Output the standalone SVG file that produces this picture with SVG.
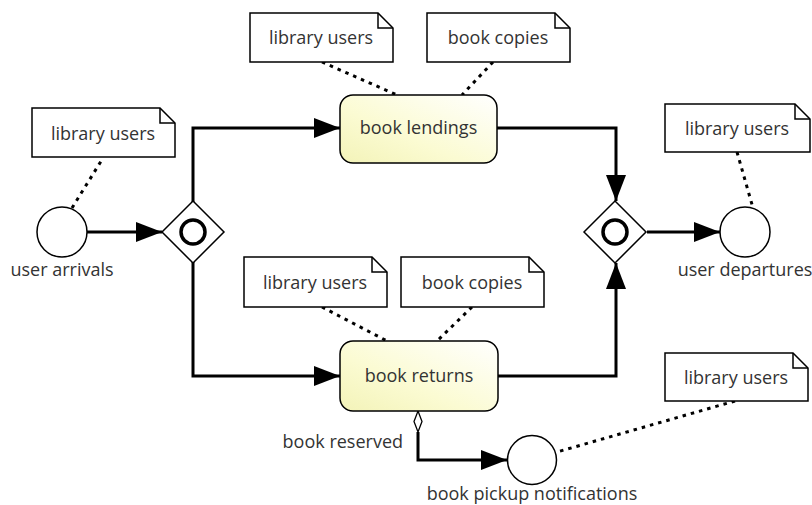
<svg xmlns="http://www.w3.org/2000/svg" width="812" height="505" viewBox="0 0 812 505">
<defs>
<linearGradient id="yg" x1="1" y1="0" x2="0" y2="1">
<stop offset="0" stop-color="#ffffff"/>
<stop offset="0.6" stop-color="#fbfbd2"/>
<stop offset="1" stop-color="#f3f3b8"/>
</linearGradient>
<marker id="arr" markerUnits="userSpaceOnUse" markerWidth="26" markerHeight="20" refX="26" refY="10" orient="auto" viewBox="0 0 26 20">
<path d="M0,0 L26,10 L0,20 Z" fill="#000"/>
</marker>
<style>
text{font-family:"Open Sans","Noto Sans","DejaVu Sans",sans-serif;font-size:18px;fill:#333;}
.c{text-anchor:middle;}
.note{fill:#fff;stroke:#000;stroke-width:1.5;}
.fold{fill:none;stroke:#000;stroke-width:1.5;}
.ev{fill:#fff;stroke:#000;stroke-width:1.5;}
.gw{fill:#fff;stroke:#000;stroke-width:1.5;}
.gwi{fill:none;stroke:#000;stroke-width:3.5;}
.flow{fill:none;stroke:#000;stroke-width:3;}
.assoc{fill:none;stroke:#000;stroke-width:3;stroke-dasharray:3.5 5;}
.task{fill:url(#yg);stroke:#000;stroke-width:1.5;}
</style>
</defs>

<g id="connectors">
<path class="flow" d="M87,232 L162,232" marker-end="url(#arr)"/>
<path class="flow" d="M193,202 L193,128 L340,128" marker-end="url(#arr)"/>
<path class="flow" d="M193,262 L193,376 L340,376" marker-end="url(#arr)"/>
<path class="flow" d="M497,128 L616,128 L616,201" marker-end="url(#arr)"/>
<path class="flow" d="M498,376 L616,376 L616,263" marker-end="url(#arr)"/>
<path class="flow" d="M647,232 L720,232" marker-end="url(#arr)"/>
<path class="flow" d="M418,432 L418,460 L507,460" marker-end="url(#arr)"/>
<path d="M418,411 L422,421.5 L418,432 L414,421.5 Z" fill="#fff" stroke="#000" stroke-width="1.3"/>
<path class="assoc" d="M72,208 L103,158"/>
<path class="assoc" d="M322,62 L397,95"/>
<path class="assoc" d="M493,62 L462,95"/>
<path class="assoc" d="M737,152 L753,208"/>
<path class="assoc" d="M322,307 L387,341"/>
<path class="assoc" d="M472,307 L437,341"/>
<path class="assoc" d="M735,401 L557,452"/>
</g>

<g id="note-arrivals">
<path class="note" d="M32,108 H160 L175,123 V157 H32 Z"/>
<path class="fold" d="M160,108 V123 H175"/>
<text class="c" x="103" y="140">library users</text>
</g>
<g id="user-arrivals">
<circle class="ev" cx="62" cy="232" r="25"/>
<text class="c" x="62" y="276">user arrivals</text>
</g>
<g id="gateway-split">
<path class="gw" d="M193,201 L224,232 L193,263 L162,232 Z"/>
<circle class="gwi" cx="193" cy="232" r="12"/>
</g>
<g id="note-lend-users">
<path class="note" d="M250,13 H378 L393,28 V62 H250 Z"/>
<path class="fold" d="M378,13 V28 H393"/>
<text class="c" x="321" y="44">library users</text>
</g>
<g id="note-lend-copies">
<path class="note" d="M427,13 H555 L570,28 V62 H427 Z"/>
<path class="fold" d="M555,13 V28 H570"/>
<text class="c" x="498" y="44">book copies</text>
</g>
<g id="book-lendings">
<rect class="task" x="340" y="95" width="157" height="68" rx="13"/>
<text class="c" x="418.5" y="134">book lendings</text>
</g>
<g id="note-ret-users">
<path class="note" d="M244,257 H372 L387,272 V307 H244 Z"/>
<path class="fold" d="M372,257 V272 H387"/>
<text class="c" x="315" y="289">library users</text>
</g>
<g id="note-ret-copies">
<path class="note" d="M401,257 H529 L544,272 V307 H401 Z"/>
<path class="fold" d="M529,257 V272 H544"/>
<text class="c" x="472" y="289">book copies</text>
</g>
<g id="book-returns">
<rect class="task" x="340" y="341" width="158" height="70" rx="13"/>
<text class="c" x="419" y="382">book returns</text>
</g>
<g id="gateway-join">
<path class="gw" d="M615,201 L646,232 L615,263 L584,232 Z"/>
<circle class="gwi" cx="615" cy="232" r="12"/>
</g>
<g id="note-departures">
<path class="note" d="M665,104 H795 L810,119 V152 H665 Z"/>
<path class="fold" d="M795,104 V119 H810"/>
<text class="c" x="737" y="135">library users</text>
</g>
<g id="user-departures">
<circle class="ev" cx="745" cy="232" r="25"/>
<text class="c" x="745" y="276">user departures</text>
</g>
<g id="book-reserved-label">
<text x="403" y="448" text-anchor="end">book reserved</text>
</g>
<g id="pickup-notifications">
<circle class="ev" cx="532" cy="460" r="24.5"/>
<text class="c" x="532" y="500">book pickup notifications</text>
</g>
<g id="note-pickup">
<path class="note" d="M665,353 H793 L808,368 V401 H665 Z"/>
<path class="fold" d="M793,353 V368 H808"/>
<text class="c" x="736" y="384">library users</text>
</g>
</svg>
